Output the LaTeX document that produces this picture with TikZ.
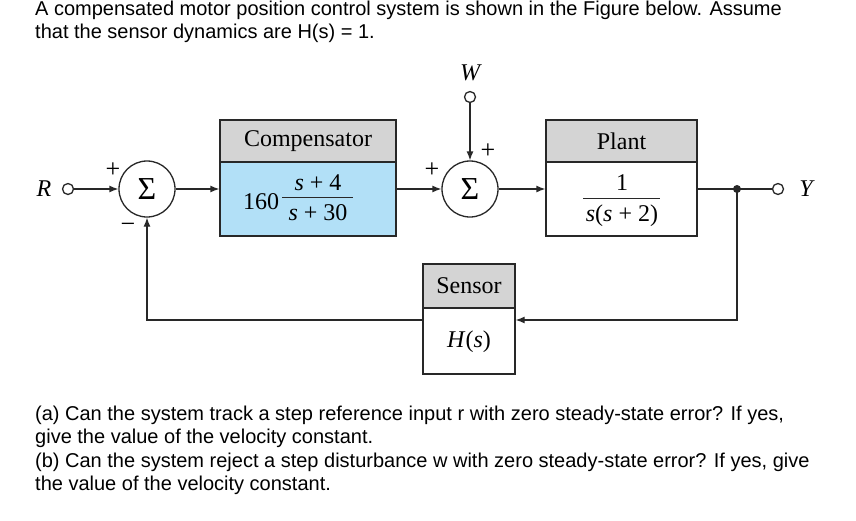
\documentclass[tikz,border=0pt]{standalone}
\usepackage{fontspec}
\setmainfont{Liberation Serif}
\newfontfamily\arialf{Liberation Sans}
\usetikzlibrary{arrows.meta}
\definecolor{hdr}{RGB}{212,212,212}
\definecolor{blu}{RGB}{178,224,247}
\definecolor{ln}{RGB}{40,40,40}
\begin{document}
\begin{tikzpicture}[x=1pt,y=-1pt,
 wire/.style={draw=ln, line width=1.3pt},
 arr/.style={wire, -{Latex[length=9pt,width=7pt]}},
 sumc/.style={circle, draw=ln, line width=1.3pt, minimum size=56pt, inner sep=0pt, font=\fontsize{32}{32}\selectfont},
 term/.style={circle, draw=ln, line width=1.3pt, fill=white, minimum size=11pt, inner sep=0pt},
 hdrbox/.style={draw=ln, line width=1.3pt, fill=hdr, inner sep=0pt, font=\fontsize{24}{24}\selectfont},
 bodybox/.style={draw=ln, line width=1.3pt, inner sep=0pt},
 lab/.style={font=\fontsize{24}{24}\selectfont\itshape, inner sep=0pt},
 txt/.style={font=\fontsize{24}{24}\selectfont, inner sep=0pt},
 sgn/.style={font=\fontsize{26}{26}\selectfont, inner sep=0pt},
 para/.style={font=\arialf\fontsize{20}{23}\selectfont, anchor=base west, inner sep=0pt},
]
\useasboundingbox (0,0) rectangle (856,520);
\fill[white] (0,0) rectangle (856,520);

% paragraphs
\node[para] (t1) at (35,15.5) {A compensated motor position control system is shown in the Figure below. Assume};
\node[para] (t2) at (35,38) {that the sensor dynamics are H(s) = 1.};
\node[para] (q1) at (35,420.5) {(a) Can the system track a step reference input r with zero steady-state error? If yes,};
\node[para] (q2) at (35,443.5) {give the value of the velocity constant.};
\node[para] (q3) at (35,467) {(b) Can the system reject a step disturbance w with zero steady-state error? If yes, give};
\node[para] (q4) at (35,490.5) {the value of the velocity constant.};

% blocks
\node[hdrbox, minimum width=176pt, minimum height=42pt] (comph) at (308,141) {Compensator};
\node[bodybox, fill=blu, minimum width=176pt, minimum height=74pt] (compb) at (308,199) {};
\node[txt] (k) at (261,202) {160};
\node[txt] (cnum) at (318,183) {\textit{s} + 4};
\node[txt] (cden) at (318,213) {\textit{s} + 30};
\draw[wire, line width=0.9pt] (282,197) -- (353,197);

\node[hdrbox, minimum width=151pt, minimum height=42pt] (planth) at (621.5,141) {Plant};
\node[bodybox, fill=white, minimum width=151pt, minimum height=74pt] (plantb) at (621.5,199) {};
\node[txt] (pnum) at (622,183) {1};
\node[txt] (pden) at (622,216) {\textit{s}(\textit{s} + 2)};
\draw[wire, line width=0.9pt] (583,198) -- (660,198);

\node[hdrbox, minimum width=92pt, minimum height=44pt] (sensh) at (469,286) {Sensor};
\node[bodybox, fill=white, minimum width=92pt, minimum height=66pt] (sensb) at (469,341) {};
\node[txt] (hs) at (469,342) {\textit{H}(\textit{s})};

% summing junctions
\node[sumc] (s1) at (147,189) {Σ};
\node[sumc] (s2) at (470,189) {Σ};

% terminals and labels
\node[lab] (R) at (44,189) {R};
\node[term] (Rin) at (68,189) {};
\node[lab] (W) at (470,73) {W};
\node[term] (Win) at (470,97) {};
\node[term] (Yout) at (778,189) {};
\node[lab] (Y) at (806,189) {Y};
\node[sgn] (p1) at (113,170) {+};
\node[sgn] (m1) at (128,228) {−};
\node[sgn] (p2) at (432,170) {+};
\node[sgn] (p3) at (488,151) {+};

% connectors
\draw[arr] (Rin) -- (s1);
\draw[arr] (s1) -- (s1 -| compb.west);
\draw[arr] (s2 -| compb.east) -- (s2);
\draw[arr] (Win) -- (s2);
\draw[arr] (s2) -- (s2 -| plantb.west);
\coordinate (br) at (737,189);
\coordinate (fb) at (737,320);
\draw[wire] (s2 -| plantb.east) -- (Yout);
\fill[ln] (br) circle (4pt);
\draw[arr] (br) -- (fb) -- (fb -| sensb.east);
\draw[arr] (fb -| sensb.west) -| (s1);
\end{tikzpicture}
\end{document}
